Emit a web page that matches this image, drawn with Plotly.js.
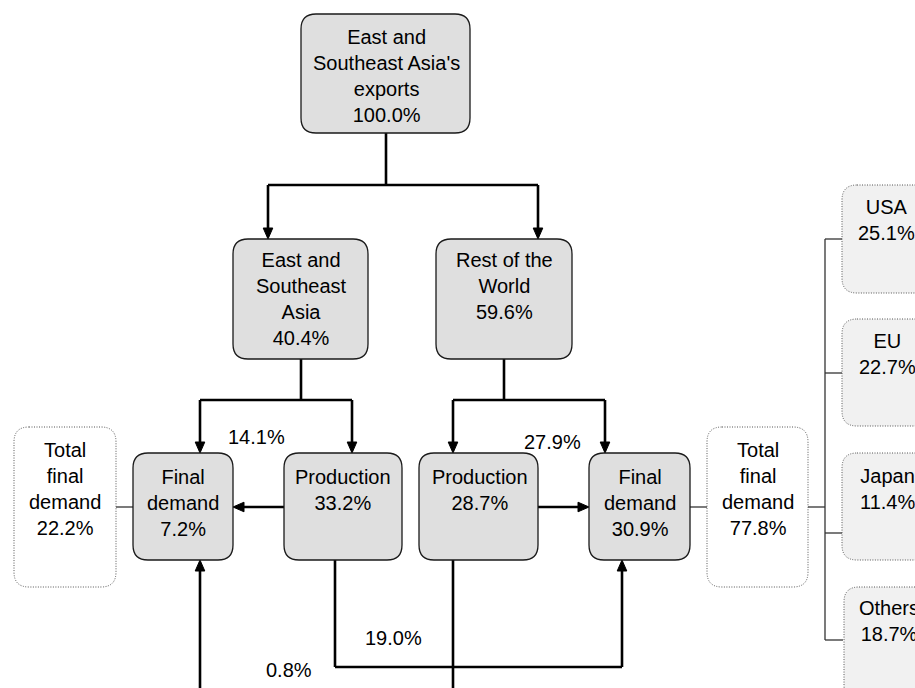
<!DOCTYPE html>
<html>
<head>
<meta charset="utf-8">
<script src="https://cdn.plot.ly/plotly-3.0.1.min.js"></script>
<style>html,body{margin:0;padding:0;background:#fff;}#chart{width:915px;height:688px;}</style>
</head>
<body>
<div id="chart"></div>
<script>
// ---------- DATA ----------
const nodeNames = [
  "East and<br>Southeast Asia's<br>exports",
  "East and<br>Southeast<br>Asia",
  "Rest of the<br>World",
  "Final<br>demand",
  "Production",
  "Production",
  "Final<br>demand",
  "Total<br>final<br>demand",
  "Total<br>final<br>demand",
  "USA",
  "EU",
  "Japan",
  "Others"
];
const nodeValues = [100.0, 40.4, 59.6, 7.2, 33.2, 28.7, 30.9, 22.2, 77.8, 25.1, 22.7, 11.4, 18.7];
const flowNames = ["ESA production to ESA final demand", "RoW production to RoW final demand", "ESA production to RoW final demand", "RoW production to ESA final demand"];
const flowValues = [14.1, 27.9, 19.0, 0.8];

// ---------- LAYOUT (positions, styles) ----------
// box: [x0, y0, x1, y1, style], text centre [x, y]
const nodeBoxes = [
  [301, 14, 470, 133, "main"],
  [233, 239, 368, 359, "main"],
  [436, 239, 572, 359, "main"],
  [133, 453, 233, 560, "main"],
  [284, 453, 402, 560, "main"],
  [419, 453, 538, 560, "main"],
  [589, 453, 690, 560, "main"],
  [14, 427, 116, 587, "total"],
  [707, 427, 808, 587, "total"],
  [842, 185, 940, 293, "region"],
  [842, 319, 940, 426, "region"],
  [842, 453, 940, 560, "region"],
  [844, 587, 940, 700, "region"]
];
const nodeTextPos = [
  [386, 76], [301, 299], [504, 286], [183, 503], [343, 490], [480, 490], [640, 503],
  [65, 489], [758, 489], [886, 220], [887, 354], [887, 489], [889, 621]
];
const flowTextPos = [[256, 437], [552, 442], [393, 638], [289, 670]];

const styles = {
  main:   {fill: "#dfdfdf", line: {color: "#1a1a1a", width: 1.3}},
  total:  {fill: "rgba(255,255,255,0)", line: {color: "#555", width: 1, dash: "1px,1.5px"}},
  region: {fill: "#f1f1f1", line: {color: "#555", width: 1, dash: "1px,1.5px"}}
};

function fmt(v) { return v.toFixed(1) + "%"; }

function roundRect(x0, y0, x1, y1, r) {
  return "M" + (x0 + r) + "," + y0 +
    " L" + (x1 - r) + "," + y0 + " Q" + x1 + "," + y0 + " " + x1 + "," + (y0 + r) +
    " L" + x1 + "," + (y1 - r) + " Q" + x1 + "," + y1 + " " + (x1 - r) + "," + y1 +
    " L" + (x0 + r) + "," + y1 + " Q" + x0 + "," + y1 + " " + x0 + "," + (y1 - r) +
    " L" + x0 + "," + (y0 + r) + " Q" + x0 + "," + y0 + " " + (x0 + r) + "," + y0 + " Z";
}

const shapes = [];
const thick = {color: "#000", width: 2.6};
const thin = {color: "#333", width: 1.3};

function seg(x0, y0, x1, y1, line) {
  shapes.push({type: "line", xref: "x", yref: "y", x0: x0, y0: y0, x1: x1, y1: y1, line: line, layer: "above"});
}
function arrow(x0, y0, x1, y1) {
  const L = 11, W = 4.8;
  const dx = Math.sign(x1 - x0), dy = Math.sign(y1 - y0);
  const bx = x1 - dx * L, by = y1 - dy * L;
  seg(x0, y0, bx, by, thick);
  let p;
  if (dx !== 0) p = "M" + x1 + "," + y1 + " L" + bx + "," + (by - W) + " L" + bx + "," + (by + W) + " Z";
  else p = "M" + x1 + "," + y1 + " L" + (bx - W) + "," + by + " L" + (bx + W) + "," + by + " Z";
  shapes.push({type: "path", xref: "x", yref: "y", path: p, fillcolor: "#000", line: {color: "#000", width: 1}, layer: "above"});
}

// connectors
seg(386, 133, 386, 185, thick);
seg(268, 185, 538, 185, thick);
arrow(268, 185, 268, 239);
arrow(538, 185, 538, 239);

seg(301, 359, 301, 400, thick);
seg(200, 400, 352, 400, thick);
arrow(200, 400, 200, 453);
arrow(352, 400, 352, 453);

seg(504, 359, 504, 400, thick);
seg(453, 400, 605, 400, thick);
arrow(453, 400, 453, 453);
arrow(605, 400, 605, 453);

arrow(284, 507, 233, 507);
arrow(538, 507, 589, 507);

seg(335, 560, 335, 667, thick);
seg(335, 667, 622, 667, thick);
arrow(622, 667, 622, 560);

arrow(200, 700, 200, 560);
seg(453, 560, 453, 700, thick);

seg(116, 507, 133, 507, thin);
seg(690, 507, 707, 507, thin);
seg(808, 507, 825, 507, thin);
seg(825, 239, 825, 640, thin);
[239, 373, 533, 640].forEach(function (y) { seg(825, y, 843, y, thin); });

// boxes
nodeBoxes.forEach(function (b) {
  const st = styles[b[4]];
  shapes.push({type: "path", xref: "x", yref: "y", path: roundRect(b[0], b[1], b[2], b[3], 15),
    fillcolor: st.fill, line: st.line, layer: "above"});
});

const font = {family: "Liberation Sans, Arial, sans-serif", size: 20, color: "#000"};
const annotations = [];
nodeNames.forEach(function (n, i) {
  annotations.push({x: nodeTextPos[i][0], y: nodeTextPos[i][1], xref: "x", yref: "y",
    text: n + "<br>" + fmt(nodeValues[i]), showarrow: false, font: font,
    xanchor: "center", yanchor: "middle", align: "center"});
});
flowValues.forEach(function (v, i) {
  annotations.push({x: flowTextPos[i][0], y: flowTextPos[i][1], xref: "x", yref: "y",
    text: fmt(v), showarrow: false, font: font, xanchor: "center", yanchor: "middle"});
});

const layout = {
  width: 915, height: 688,
  margin: {l: 0, r: 0, t: 0, b: 0},
  paper_bgcolor: "#fff", plot_bgcolor: "#fff",
  xaxis: {range: [0, 915], visible: false, fixedrange: true},
  yaxis: {range: [688, 0], visible: false, fixedrange: true},
  showlegend: false,
  shapes: shapes,
  annotations: annotations
};

Plotly.newPlot("chart", [{x: [], y: [], type: "scatter", mode: "markers", hoverinfo: "skip"}], layout,
  {displayModeBar: false, staticPlot: true});
</script>
</body>
</html>
